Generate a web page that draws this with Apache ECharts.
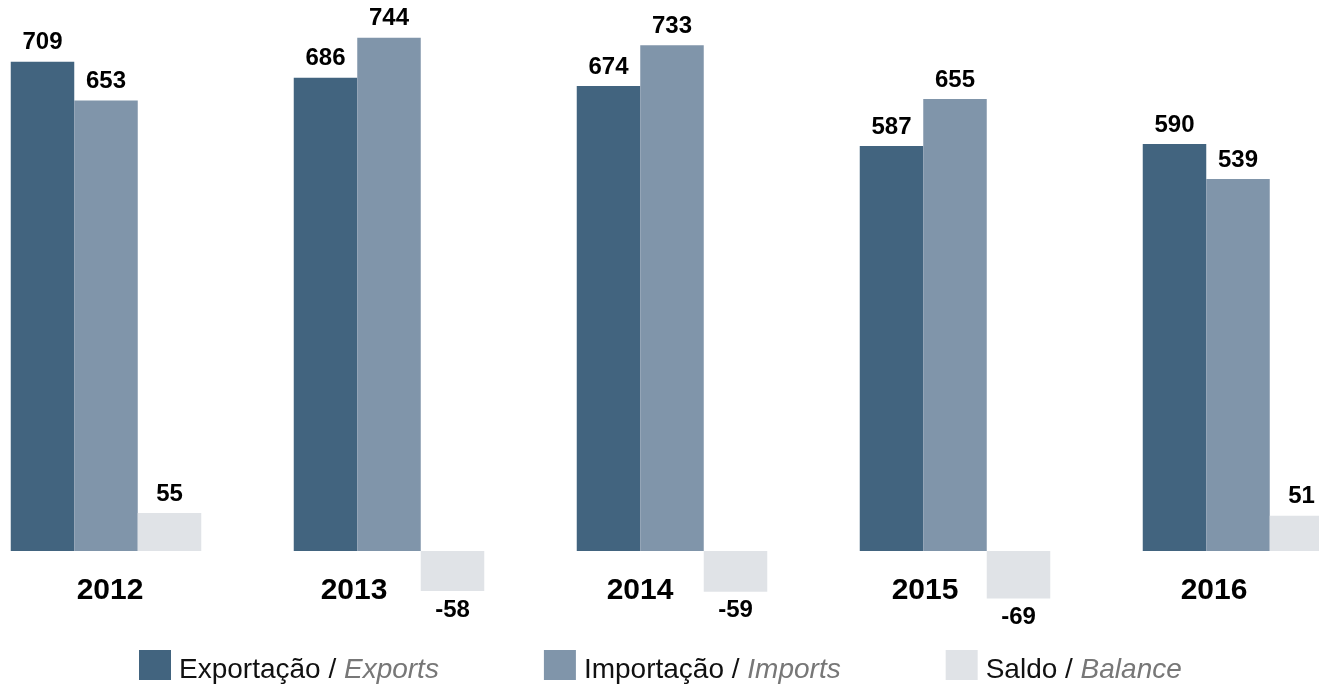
<!DOCTYPE html>
<html>
<head>
<meta charset="utf-8">
<script src="https://cdn.jsdelivr.net/npm/echarts@6/dist/echarts.min.js"></script>
<style>
  html, body { margin: 0; padding: 0; background: #fff; }
  #chart { width: 1319px; height: 687px; }
</style>
</head>
<body>
<div id="chart"></div>
<script>
// anos
const years = ['2012', '2013', '2014', '2015', '2016'];
// valores por série
const exportsValues = [709, 686, 674, 587, 590];
const importsValues = [653, 744, 733, 655, 539];
const balanceValues = [55, -58, -59, -69, 51];

const seriesNames = [
    ['Exportação / ', 'Exports'],
    ['Importação / ', 'Imports'],
    ['Saldo / ', 'Balance']
];
const colors = ['#42647f', '#8095aa', '#e0e3e7'];

const FONT = '"Liberation Sans", Arial, Helvetica, sans-serif';
const Y_MIN = -100;
const Y_MAX = 800;
const GRID_H = 621;
// deslocamento horizontal de cada rótulo de ano (px)
const yearShift = [4, -35, -32, -30, -24];

function toData(values) {
    // rótulo abaixo da barra quando o valor é negativo
    return values.map(v => ({
        value: v,
        label: { position: v < 0 ? 'bottom' : 'top' }
    }));
}

function makeSeries(i, values) {
    return {
        name: seriesNames[i].join(''),
        type: 'bar',
        barWidth: 63.5,
        barGap: '0%',
        itemStyle: { color: colors[i] },
        label: {
            show: true,
            distance: 7,
            color: '#000',
            fontFamily: FONT,
            fontWeight: 'bold',
            fontSize: 24
        },
        data: toData(values)
    };
}

const yearRich = {};
yearShift.forEach((s, i) => {
    yearRich['y' + i] = {
        color: '#000',
        fontFamily: FONT,
        fontWeight: 'bold',
        fontSize: 30,
        padding: s >= 0 ? [0, 0, 0, 2 * s] : [0, -2 * s, 0, 0]
    };
});

const chart = echarts.init(document.getElementById('chart'));
chart.setOption({
    animation: false,
    textStyle: { fontFamily: FONT },
    grid: { left: -35.5, width: 1415, top: -1, height: GRID_H, outerBoundsMode: 'none', containLabel: false },
    xAxis: {
        type: 'category',
        data: years,
        // eixo levado até a linha do zero
        offset: Y_MIN / (Y_MAX - Y_MIN) * GRID_H,
        axisLine: { show: false },
        axisTick: { show: false },
        axisLabel: {
            margin: 25,
            formatter: (v, i) => '{y' + i + '|' + v + '}',
            rich: yearRich
        }
    },
    yAxis: {
        type: 'value',
        min: Y_MIN,
        max: Y_MAX,
        axisLine: { show: false },
        axisTick: { show: false },
        axisLabel: { show: false },
        splitLine: { show: false }
    },
    legend: {
        left: 139,
        top: 650,
        padding: 0,
        itemWidth: 32,
        itemHeight: 30,
        itemGap: 105,
        icon: 'rect',
        data: seriesNames.map(n => n.join('')),
        formatter: function (name) {
            const pair = seriesNames.find(n => n.join('') === name);
            return '{a|' + pair[0] + '}{b|' + pair[1] + '}';
        },
        textStyle: {
            padding: [10, 0, 0, 3],
            rich: {
                a: { fontSize: 28, color: '#111', fontFamily: FONT },
                b: { fontSize: 28, color: '#777', fontStyle: 'italic', fontFamily: FONT }
            }
        }
    },
    series: [
        makeSeries(0, exportsValues),
        makeSeries(1, importsValues),
        makeSeries(2, balanceValues)
    ]
});
</script>
</body>
</html>
